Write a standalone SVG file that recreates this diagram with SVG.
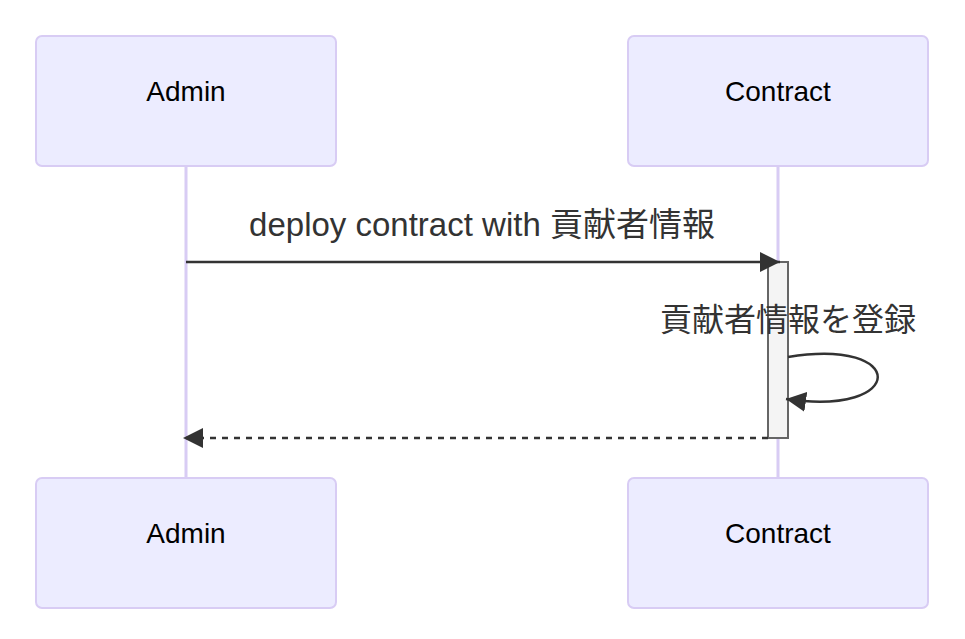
<svg xmlns="http://www.w3.org/2000/svg" width="965" height="639" viewBox="0 0 965 639">
<defs>
<style>
.actor{fill:#ECECFF;stroke:#D8CCF4;stroke-width:2}
.actor-text{font-family:"Liberation Sans",Arial,sans-serif;font-size:28px;fill:#000;text-anchor:middle}
.lifeline{stroke:#D8CCF4;stroke-width:3}
.msg{stroke:#333;stroke-width:2.5;fill:none}
.msg-text{font-family:"Liberation Sans","Noto Sans CJK JP",sans-serif;font-size:32px;fill:#333;text-anchor:middle}
.activation{fill:#F4F4F4;stroke:#666;stroke-width:2}
</style>
<marker id="arrow" markerUnits="userSpaceOnUse" viewBox="0 0 20 20" refX="20" refY="10" markerWidth="20" markerHeight="20" orient="auto">
<path d="M0,0 L20,10 L0,20 Z" fill="#333"/>
</marker>
</defs>
<rect width="965" height="639" fill="#fff"/>
<g id="lifelines">
<line class="lifeline" x1="186" y1="166" x2="186" y2="478"/>
<line class="lifeline" x1="778" y1="166" x2="778" y2="478"/>
</g>
<g id="admin-top"><rect class="actor" x="36" y="36" width="300" height="130" rx="6"/><text class="actor-text" x="186" y="101">Admin</text></g>
<g id="contract-top"><rect class="actor" x="628" y="36" width="300" height="130" rx="6"/><text class="actor-text" x="778" y="101">Contract</text></g>
<g id="admin-bottom"><rect class="actor" x="36" y="478" width="300" height="130" rx="6"/><text class="actor-text" x="186" y="543">Admin</text></g>
<g id="contract-bottom"><rect class="actor" x="628" y="478" width="300" height="130" rx="6"/><text class="actor-text" x="778" y="543">Contract</text></g>
<g id="activation"><rect class="activation" x="768" y="262" width="20" height="176"/></g>
<g id="connectors">
<line class="msg" x1="186" y1="262" x2="780" y2="262" marker-end="url(#arrow)"/>
<text class="msg-text" x="482" y="236" style="font-size:33px">deploy contract with 貢献者情報</text>
<path class="msg" d="M788,357 C908,337 908,417 786,399" marker-end="url(#arrow)"/>
<text class="msg-text" x="788" y="331">貢献者情報を登録</text>
<line class="msg" x1="768" y1="438" x2="183" y2="438" stroke-dasharray="6,6" marker-end="url(#arrow)"/>
</g>
</svg>
